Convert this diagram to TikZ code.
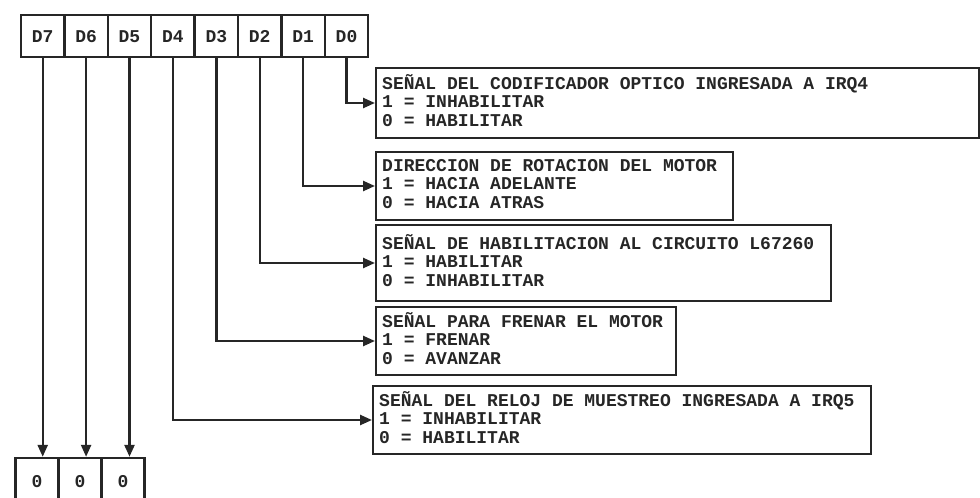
\documentclass[tikz,border=0pt]{standalone}
\usepackage{fontspec}
\setmonofont{Liberation Mono}
\usetikzlibrary{arrows.meta}
\definecolor{ink}{gray}{0.15}
\newcommand{\boxlines}[2]{\makebox[#1][l]{\begin{tabular}{@{}l@{}}#2\end{tabular}}}
\tikzset{
  x=1pt, y=-1pt,
  every node/.style={font=\ttfamily\bfseries\fontsize{18}{18.5}\selectfont, text=ink},
  cell/.style={draw=ink, line width=2.4pt, minimum width=43.4pt, minimum height=42pt, inner sep=0pt, text height=12pt, text depth=0pt},
  infobox/.style={draw=ink, line width=2.4pt, anchor=west, inner xsep=6pt, inner ysep=4pt},
  conn/.style={draw=ink, line width=2.4pt, -{Triangle[length=12pt,width=10pt]}},
}
\begin{document}
\begin{tikzpicture}
\useasboundingbox (0,0) rectangle (980,498);
% register cells
\foreach \n/\i in {7/0,6/1,5/2,4/3,3/4,2/5,1/6,0/7}{
  \node[cell] (d\n) at ({21+43.4*(\i+0.5)},36) {D\n};
}
% info boxes
\node[infobox, minimum height=70pt] (b0) at (375,103)
  {\boxlines{591pt}{SEÑAL DEL CODIFICADOR OPTICO INGRESADA A IRQ4\\1 = INHABILITAR\\0 = HABILITAR}};
\node[infobox, minimum height=68pt] (b1) at (375,186)
  {\boxlines{345pt}{DIRECCION DE ROTACION DEL MOTOR\\1 = HACIA ADELANTE\\0 = HACIA ATRAS}};
\node[infobox, minimum height=76pt] (b2) at (375,263)
  {\boxlines{443pt}{SEÑAL DE HABILITACION AL CIRCUITO L67260\\1 = HABILITAR\\0 = INHABILITAR}};
\node[infobox, minimum height=68pt] (b3) at (375,341)
  {\boxlines{288pt}{SEÑAL PARA FRENAR EL MOTOR\\1 = FRENAR\\0 = AVANZAR}};
\node[infobox, minimum height=68pt] (b4) at (372,420)
  {\boxlines{486pt}{SEÑAL DEL RELOJ DE MUESTREO INGRESADA A IRQ5\\1 = INHABILITAR\\0 = HABILITAR}};
% bottom cells
\node[cell, minimum width=43pt, minimum height=46pt] (z7) at (37,481) {0};
\node[cell, minimum width=43pt, minimum height=46pt] (z6) at (80,481) {0};
\node[cell, minimum width=43pt, minimum height=46pt] (z5) at (123,481) {0};
% connectors
\draw[conn] (d0.south) |- (b0.west);
\draw[conn] (d1.south) |- (b1.west);
\draw[conn] (d2.south) |- (b2.west);
\draw[conn] (d3.south) |- (b3.west);
\draw[conn] (d4.south) |- (b4.west);
\draw[conn] (d7.south) -- (d7.south |- z7.north);
\draw[conn] (d6.south) -- (d6.south |- z6.north);
\draw[conn] (d5.south) -- (d5.south |- z5.north);
\end{tikzpicture}
\end{document}
